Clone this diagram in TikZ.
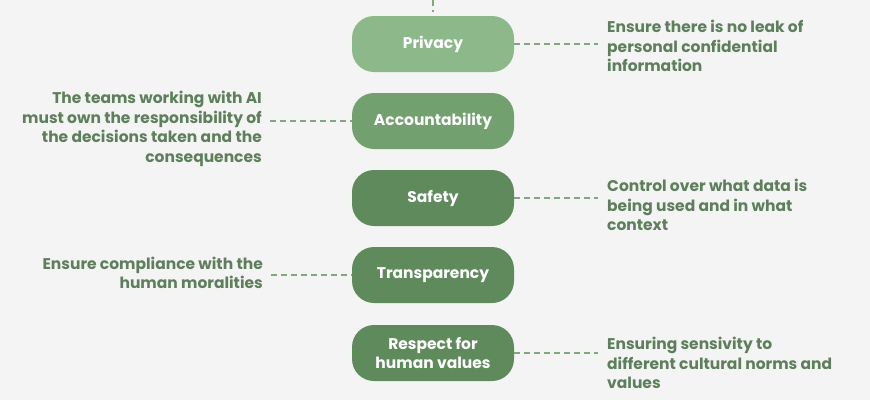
\documentclass[tikz,border=0pt]{standalone}
\usepackage{fontspec}
\setmainfont{Poppins}
\usetikzlibrary{positioning}
\definecolor{bgcol}{HTML}{F4F4F4}
\definecolor{pillA}{HTML}{8DB98A}
\definecolor{pillB}{HTML}{72A06E}
\definecolor{pillC}{HTML}{5F8B5C}
\definecolor{textcol}{HTML}{5E7F5B}
\definecolor{dashcol}{HTML}{7FA97C}
\tikzset{
    pill/.style={rounded corners=22pt, minimum width=162pt, minimum height=56pt,
        text=white, font=\fontsize{15.5}{19}\selectfont\bfseries, align=center, inner sep=0pt},
    note/.style={text=textcol, font=\fontsize{15.5}{19.5}\selectfont\bfseries, inner sep=0pt},
    link/.style={dashcol, line width=1.6pt, dash pattern=on 6pt off 4pt},
}
\begin{document}
\begin{tikzpicture}[x=1pt,y=-1pt]
        \fill[bgcol] (0,0) rectangle (870,400);
        \useasboundingbox (0,0) rectangle (870,400);
        \node[pill,fill=pillA] (privacy) at (433,44) {Privacy};
        \node[pill,fill=pillB] (account) at (433,121) {Accountability};
        \node[pill,fill=pillC] (safety) at (433,198) {Safety};
        \node[pill,fill=pillC] (transp) at (433,275) {Transparency};
        \node[pill,fill=pillC] (respect) at (433,353) {Respect for\\human values};
        \node[note,anchor=west,align=left] (leak) at (607,46) {Ensure there is no leak of\\personal confidential\\information};
        \node[note,anchor=east,align=right] (teams) at (262,129) {The teams working with AI\\must own the responsibility of\\the decisions taken and the\\consequences};
        \node[note,anchor=west,align=left] (data) at (607,205) {Control over what data is\\being used and in what\\context};
        \node[note,anchor=east,align=right] (moral) at (263,273) {Ensure compliance with the\\human moralities};
        \node[note,anchor=west,align=left] (norms) at (607,363) {Ensuring sensivity to\\different cultural norms and\\values};
        \coordinate (top) at (433,0);
        \draw[link] (top) -- ([yshift=4pt]privacy.north);
        \draw[link] (privacy.east) -- ([xshift=-9pt]leak.west |- privacy.east);
        \draw[link] ([xshift=8pt]teams.east |- account.west) -- (account.west);
        \draw[link] (safety.east) -- ([xshift=-9pt]data.west |- safety.east);
        \draw[link] ([xshift=8pt]moral.east |- transp.west) -- (transp.west);
        \draw[link] (respect.east) -- ([xshift=-9pt]norms.west |- respect.east);
    \end{tikzpicture}
\end{document}
